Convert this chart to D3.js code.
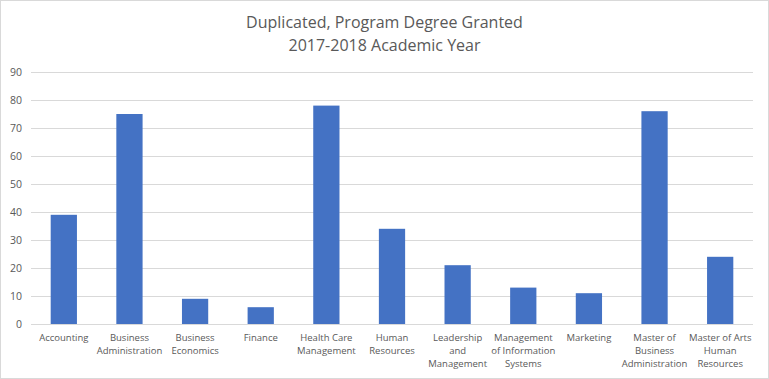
<!DOCTYPE html>
<html><head><meta charset="utf-8">
<script src="https://cdn.jsdelivr.net/npm/d3@7"></script>
<style>body{margin:0;background:#fff}svg{display:block}</style>
</head><body>
<script>
const categories = [
  ["Accounting"],
  ["Business","Administration"],
  ["Business","Economics"],
  ["Finance"],
  ["Health Care","Management"],
  ["Human","Resources"],
  ["Leadership","and","Management"],
  ["Management","of Information","Systems"],
  ["Marketing"],
  ["Master of","Business","Administration"],
  ["Master of Arts","Human","Resources"]
];
const values = [39, 75, 9, 6, 78, 34, 21, 13, 11, 76, 24];
const yTicks = [0,10,20,30,40,50,60,70,80,90];
const titleLines = ["Duplicated, Program Degree Granted","2017-2018 Academic Year"];

const W = 769, H = 379;
const margin = {left:31, right:16, top:72, bottom:55};
const svg = d3.select("body").append("svg").attr("width",W).attr("height",H);
svg.append("rect").attr("x",0.5).attr("y",0.5).attr("width",W-1).attr("height",H-1)
  .attr("fill","#fff").attr("stroke","#d9d9d9");

const font = "'Open Sans', sans-serif";
const x = d3.scaleBand().domain(d3.range(categories.length))
  .range([margin.left, W-margin.right]).paddingInner(0.6).paddingOuter(0.3);
const y = d3.scaleLinear().domain([0,90]).range([H-margin.bottom, margin.top]);

// gridlines
svg.append("g").selectAll("line").data(yTicks).join("line")
  .attr("x1",margin.left).attr("x2",W-margin.right)
  .attr("y1",d=>Math.round(y(d))+0.5).attr("y2",d=>Math.round(y(d))+0.5)
  .attr("stroke","#d9d9d9").attr("stroke-width",1);

// y labels
svg.append("g").selectAll("text").data(yTicks).join("text")
  .attr("x",22).attr("y",d=>y(d)).attr("dy","0.35em").attr("text-anchor","end")
  .attr("font-family",font).attr("font-size",10.5).attr("fill","#595959").text(d=>d);

// bars
svg.append("g").selectAll("rect").data(values).join("rect")
  .attr("x",(d,i)=>x(i)).attr("width",x.bandwidth())
  .attr("y",d=>y(d)).attr("height",d=>y(0)-y(d)).attr("fill","#4472c4");

// category labels
const cg = svg.append("g");
categories.forEach((lines,i)=>{
  const t = cg.append("text").attr("text-anchor","middle")
    .attr("font-family",font).attr("font-size",9.5).attr("fill","#595959");
  lines.forEach((l,j)=>{
    t.append("tspan").attr("x",x(i)+x.bandwidth()/2).attr("y",341+j*13).text(l);
  });
});

// title
svg.append("g").selectAll("text").data(titleLines).join("text")
  .attr("x",W/2).attr("y",(d,i)=>28+i*23).attr("text-anchor","middle")
  .attr("font-family",font).attr("font-size",16).attr("fill","#595959").text(d=>d);
</script>
</body></html>
